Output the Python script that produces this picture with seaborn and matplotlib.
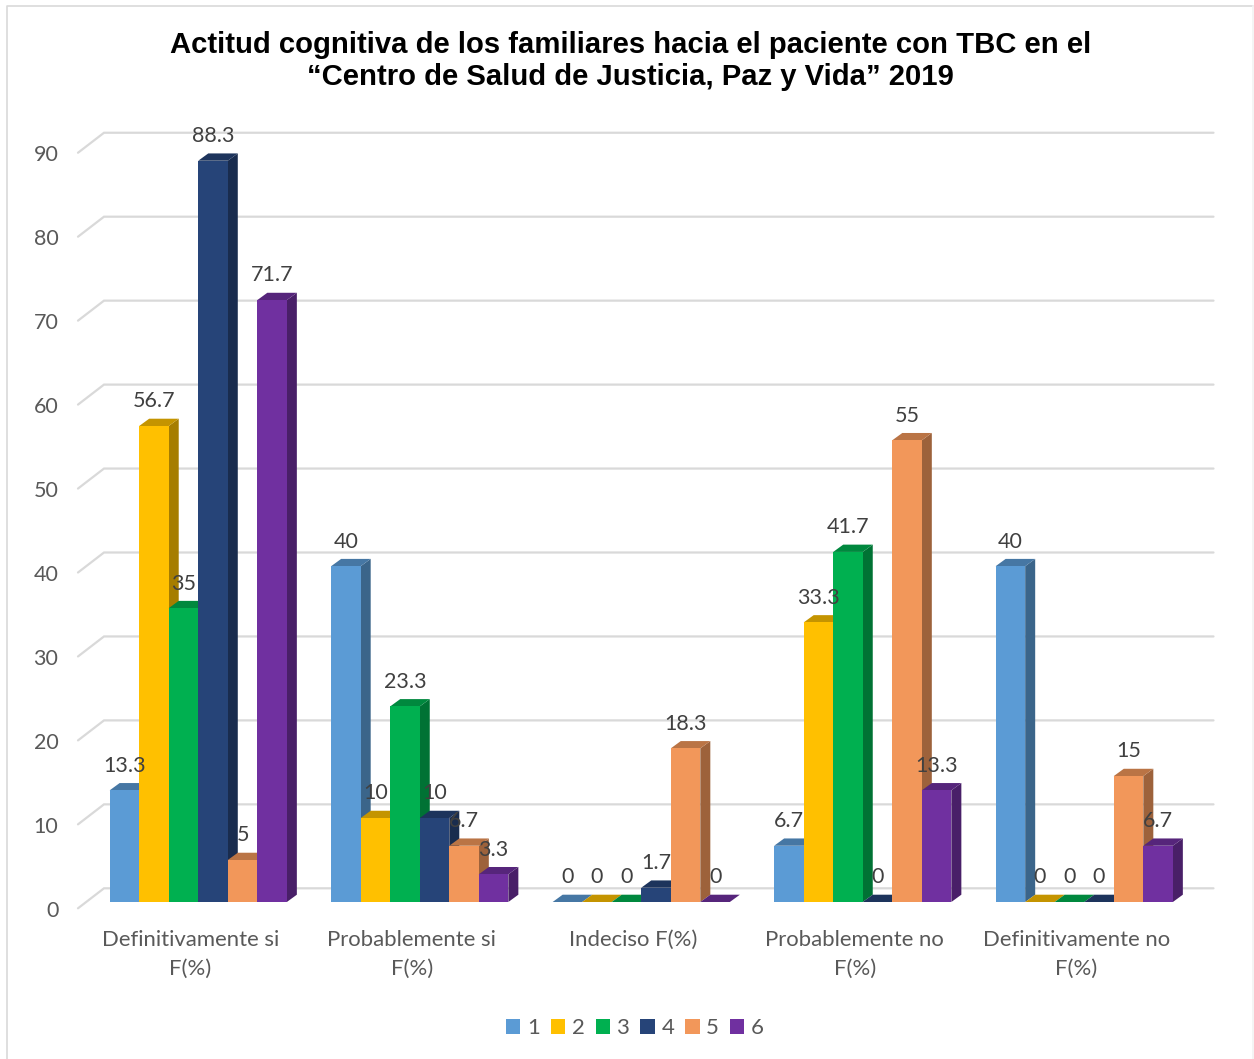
import matplotlib
matplotlib.use('Agg')
import matplotlib.pyplot as plt
from matplotlib.lines import Line2D
from matplotlib.patches import Polygon
from matplotlib.transforms import ScaledTranslation
import pandas as pd
import seaborn as sns

categories = ['Definitivamente si\nF(%)', 'Probablemente si\nF(%)', 'Indeciso F(%)',
              'Probablemente no\nF(%)', 'Definitivamente no\nF(%)']
serie_1 = [13.3, 40, 0, 6.7, 40]
serie_2 = [56.7, 10, 0, 33.3, 0]
serie_3 = [35, 23.3, 0, 41.7, 0]
serie_4 = [88.3, 10, 1.7, 0, 0]
serie_5 = [5, 6.7, 18.3, 55, 15]
serie_6 = [71.7, 3.3, 0, 13.3, 6.7]
y_ticks = [0, 10, 20, 30, 40, 50, 60, 70, 80, 90]

series = {'1': serie_1, '2': serie_2, '3': serie_3, '4': serie_4, '5': serie_5, '6': serie_6}
colors = ['#5B9BD5', '#FFC000', '#00B050', '#264478', '#F2975A', '#7030A0']

W, H = 1254, 1059
PX_X = 221.5   # pixels per category
PX_Y = 8.395   # pixels per value unit

# long table for seaborn
rows = []
for name, values in series.items():
    for cat, v in zip(categories, values):
        rows.append({'cat': cat, 'serie': name, 'valor': v})
df = pd.DataFrame(rows)

sns.set_theme(style='white')
plt.rcParams['font.family'] = ['Lato', 'DejaVu Sans']

fig = plt.figure(figsize=(W / 100, H / 100), dpi=100, facecolor='white')
ax = fig.add_axes([87.5 / W, (H - 902) / H, 5 * PX_X / W, 90 * PX_Y / H])

sns.barplot(data=df, x='cat', y='valor', hue='serie', palette=colors, saturation=1,
            width=0.8, gap=0, linewidth=0, errorbar=None, ax=ax)
ax.set_xlim(-0.5, 4.5)
ax.set_ylim(0, 90)
ax.set_xlabel('')
ax.set_ylabel('')
sns.despine(ax=ax, left=True, bottom=True)


def shade(color, f):
    r, g, b = matplotlib.colors.to_rgb(color)
    return (r * f, g * f, b * f)


# fake 3D: the back wall grid first, in depth
ax.grid(False)
for v in y_ticks:
    front = v - 6.3 / PX_Y
    back = v + 13.7 / PX_Y
    ax.plot([-0.5 - 9.5 / PX_X, -0.5 + 16.5 / PX_X, -0.5 + 1126 / PX_X], [front, back, back],
            color='#D9D9D9', lw=1.6, clip_on=False, zorder=1, solid_joinstyle='miter')

# side and top faces of each bar, taken from the bars seaborn drew
dx = 10 / PX_X
dy = 7.3 / PX_Y
for s, cont in enumerate(ax.containers):
    col = colors[s]
    for g, bar in enumerate(cont):
        z = 3 + g + s * 0.1
        l, r, h = bar.get_x(), bar.get_x() + bar.get_width(), bar.get_height()
        ax.add_patch(Polygon([(r, 0), (r + dx, dy), (r + dx, h + dy), (r, h)],
                             fc=shade(col, 0.65), lw=0, zorder=z, clip_on=False))
        ax.add_patch(Polygon([(l, h), (l + dx, h + dy), (r + dx, h + dy), (r, h)],
                             fc=shade(col, 0.77), lw=0, zorder=z + 0.01, clip_on=False))
        bar.set_zorder(z + 0.02)
    ax.bar_label(cont, fmt='%g', padding=10.5, fontsize=15.5, color='#404040', zorder=100)

# tick labels
ax.set_yticks(y_ticks)
ax.tick_params(axis='y', length=0, pad=21, labelsize=15.5, labelcolor='#595959')
ax.tick_params(axis='x', length=0, pad=20.2, labelsize=15.9, labelcolor='#595959')
for lab in ax.get_yticklabels():
    lab.set_transform(lab.get_transform() + ScaledTranslation(0, -7 / 100, fig.dpi_scale_trans))
for lab in ax.get_xticklabels():
    lab.set_linespacing(1.55)
    lab.set_transform(lab.get_transform() + ScaledTranslation(-8 / 100, 0, fig.dpi_scale_trans))

sns.move_legend(ax, 'center', bbox_to_anchor=(635 / W, 1 - 1028 / H), bbox_transform=fig.transFigure,
                ncol=6, frameon=False, title=None, fontsize=16, labelcolor='#595959',
                handlelength=0.64, handleheight=0.64, handletextpad=0.3, columnspacing=0.5)

fig.text(630.5 / W, 1 - 61 / H,
         'Actitud cognitiva de los familiares hacia el paciente con TBC en el\n'
         '\u201cCentro de Salud de Justicia, Paz y Vida\u201d 2019',
         ha='center', va='center', fontsize=21.1, fontweight='bold', color='black',
         family=['Liberation Sans', 'DejaVu Sans'], linespacing=1.22)

# outer chart frame, the right edge is much fainter in the original
top = 1 - 5.5 / H
fig.add_artist(Line2D([7 / W, 7 / W, 1253 / W], [0, top, top], color='#D9D9D9', lw=1.2))
fig.add_artist(Line2D([1253 / W, 1253 / W], [0, top], color='#F2F2F2', lw=1.2))

fig.savefig('out.png', dpi=100)
